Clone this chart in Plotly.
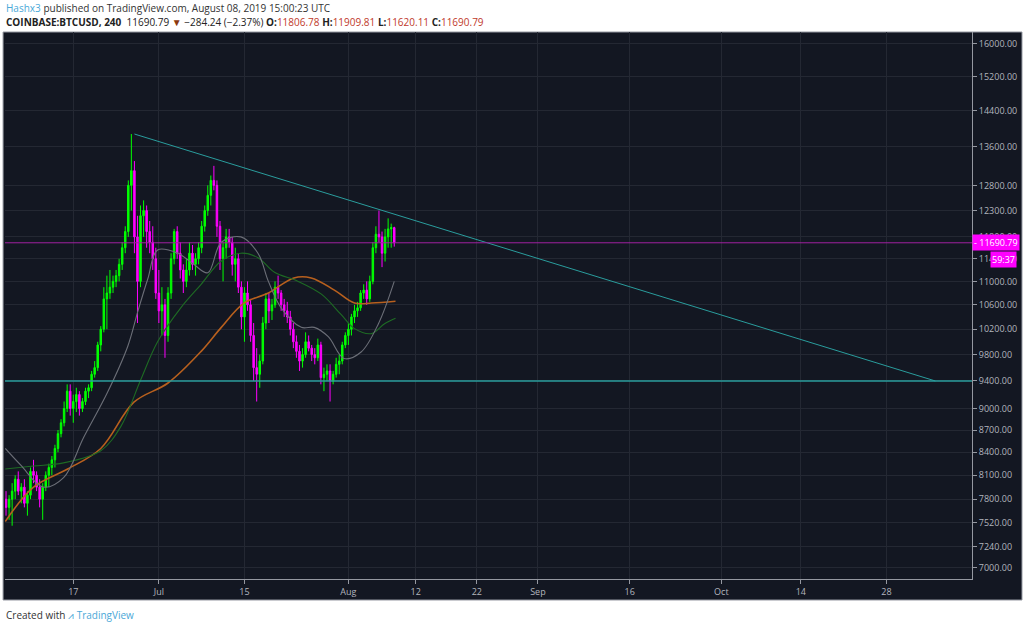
import plotly.graph_objects as go
import pandas as pd
import math

# 12h candles starting 2019-06-06 00:00
start = "2019-06-06 00:00"
opens = [7800,7700,7800,7900,8050,7900,7950,7750,7850,8150,8100,7950,7800,7950,8100,8200,8300,8450,8650,8800,
         9000,9250,9000,9100,9200,9000,9100,9250,9300,9500,9600,9950,10200,10700,10800,10900,11000,11100,11300,11600,
         11900,12800,13100,11800,11000,12200,12300,11900,11700,11400,10800,10500,10600,10100,10800,11400,11900,11500,11200,11000,
         11200,11500,11300,11400,11600,12000,12300,12600,12900,12800,12000,11400,11600,11800,11700,11300,11400,10900,10400,10800,
         10600,10100,9600,9500,9700,10300,10700,10500,10600,10900,10800,10600,10500,10400,10200,10000,9850,9700,9800,10000,
         9900,9800,9750,9950,9450,9500,9550,9400,9500,9650,9700,9950,10100,10200,10400,10500,10550,10800,10850,10700,
         11000,11600,11850,11800,11500,11800,11950,11975]
highs = [7900,7850,8000,8100,8150,8000,8050,7900,8200,8300,8150,8050,8000,8150,8250,8350,8500,8700,8850,9100,
         9350,9350,9200,9300,9250,9150,9300,9350,9550,9700,10000,10250,10900,11100,11200,11100,11200,11400,11700,12000,
         12900,13880,13300,12200,12400,12500,12400,12100,12000,11600,11200,10900,10700,10900,11500,11950,12000,11700,11300,11400,
         11700,11650,11500,11700,12100,12400,12800,13000,13200,12900,12100,11700,11950,11950,11800,11600,11500,11000,10900,11000,
         10700,10300,9900,9800,10400,10800,10800,10700,11000,11100,10850,10700,10650,10500,10300,10100,9950,9900,10150,10100,
         9950,9900,10050,10000,9600,9650,9650,9550,9750,9800,10000,10150,10300,10450,10600,10650,10850,10950,11000,11100,
         11700,12000,12300,11900,11950,12150,12050,11990]
lows = [7600,7550,7480,7800,7850,7750,7700,7600,7800,8000,7900,7700,7550,7900,7950,8100,8200,8400,8600,8750,
        8950,8900,8800,8950,8900,8950,9050,9150,9250,9450,9550,9850,10150,10200,10700,10800,10900,11000,11200,11500,
        11800,12300,11500,10300,10900,11800,11600,11500,11200,10700,10300,10100,9750,10000,10700,11300,11400,11050,10800,10900,
        11100,11200,11100,11300,11500,11900,12200,12400,12700,11800,11200,11000,11400,11600,11100,11000,10800,10200,10000,10500,
        10000,9400,9100,9300,9650,10200,10300,10350,10550,10700,10500,10400,10300,10100,9900,9750,9550,9600,9750,9850,
        9700,9650,9700,9350,9250,9400,9100,9350,9450,9500,9650,9900,9950,10100,10300,10400,10500,10700,10600,10650,
        10950,11500,11700,11250,11350,11600,11600,11620]
closes = [7700,7800,7900,8050,7900,7950,7750,7850,8150,8100,7950,7800,7950,8100,8200,8300,8450,8650,8800,9000,
          9250,9000,9100,9200,9000,9100,9250,9300,9500,9600,9950,10200,10700,10800,10900,11000,11100,11300,11600,11900,
          12800,13100,11800,11000,12200,12300,11900,11700,11400,10800,10500,10600,10100,10800,11400,11900,11500,11200,11000,11200,
          11500,11300,11400,11600,12000,12300,12600,12900,12800,12000,11400,11600,11800,11700,11300,11400,10900,10400,10800,10600,
          10100,9600,9500,9700,10300,10700,10500,10600,10900,10800,10600,10500,10400,10200,10000,9850,9700,9800,10000,9900,
          9800,9750,9950,9450,9500,9550,9400,9500,9650,9700,9950,10100,10200,10400,10500,10550,10800,10850,10700,11000,
          11600,11850,11800,11500,11800,11950,11975,11690.79]
dates = pd.date_range(start, periods=len(closes), freq="12h")

# moving averages
ma_gray_x = ["2019-06-05 21:00","2019-06-08 10:00","2019-06-12 02:00","2019-06-15 10:00","2019-06-18 17:00","2019-06-22 14:00",
             "2019-06-25 22:00","2019-06-27 14:00","2019-06-29 05:00","2019-06-30 19:00","2019-07-04 02:00","2019-07-06 17:00",
             "2019-07-09 00:00","2019-07-11 05:00","2019-07-14 10:00","2019-07-17 05:00","2019-07-18 22:00","2019-07-21 00:00",
             "2019-07-24 07:00","2019-07-26 10:00","2019-07-28 17:00","2019-07-31 07:00","2019-08-03 02:00","2019-08-05 22:00","2019-08-08 12:00"]
ma_gray_y = [8450,8230,7950,8070,8600,9230,9930,10500,11050,11560,11500,11300,11150,11700,11800,11500,11000,10550,
             10230,10230,10080,9740,9840,10290,11000]
ma_green_x = ["2019-06-05 21:00","2019-06-10 12:00","2019-06-15 10:00","2019-06-21 12:00","2019-06-24 19:00","2019-06-28 00:00",
              "2019-06-30 19:00","2019-07-04 14:00","2019-07-07 22:00","2019-07-11 05:00","2019-07-14 10:00","2019-07-17 05:00",
              "2019-07-19 22:00","2019-07-23 19:00","2019-07-27 14:00","2019-07-30 19:00","2019-08-02 00:00","2019-08-04 19:00",
              "2019-08-06 22:00","2019-08-08 17:00"]
ma_green_y = [8180,8220,8260,8420,8750,9410,10000,10550,10950,11360,11500,11420,11160,11000,10780,10440,10210,10130,10290,10380]
ma_orange_x = ["2019-06-05 21:00","2019-06-10 12:00","2019-06-16 02:00","2019-06-21 12:00","2019-06-26 22:00","2019-07-02 12:00",
               "2019-07-07 22:00","2019-07-11 05:00","2019-07-14 22:00","2019-07-18 22:00","2019-07-23 02:00","2019-07-25 22:00",
               "2019-07-29 17:00","2019-08-02 00:00","2019-08-04 19:00","2019-08-08 17:00"]
ma_orange_y = [7530,7950,8180,8450,9090,9370,9850,10230,10630,10800,11060,11060,10850,10630,10630,10660]

trend_x = ["2019-06-27 00:00","2019-11-05 00:00"]
trend_y = [13880,9400]
support = 9400
last_price = 11690.79

y_ticks = [7000,7240,7520,7800,8100,8400,8700,9000,9400,9800,10200,10600,11000,11400,11800,12300,12800,13600,14400,15200,16000]
x_tickvals = ["2019-06-17","2019-07-01","2019-07-15","2019-08-01","2019-08-12","2019-08-22","2019-09-01",
              "2019-09-16","2019-10-01","2019-10-14","2019-10-28"]
x_ticktext = ["17","Jul","15","Aug","12","22","Sep","16","Oct","14","28"]

BG = "#131722"
GRID = "#242833"

fig = go.Figure()
fig.add_trace(go.Scatter(x=ma_orange_x, y=ma_orange_y, mode="lines", line=dict(color="#b8601e", width=1.6, shape="spline"), hoverinfo="skip"))
fig.add_trace(go.Scatter(x=ma_green_x, y=ma_green_y, mode="lines", line=dict(color="#1e6b24", width=1.1, shape="spline"), hoverinfo="skip"))
fig.add_trace(go.Scatter(x=ma_gray_x, y=ma_gray_y, mode="lines", line=dict(color="#6c6f78", width=1.1, shape="spline"), hoverinfo="skip"))
fig.add_trace(go.Candlestick(x=dates, open=opens, high=highs, low=lows, close=closes,
                             increasing=dict(line=dict(color="#00ff00", width=1), fillcolor="#00ff00"),
                             decreasing=dict(line=dict(color="#ff00ff", width=1), fillcolor="#ff00ff"),
                             whiskerwidth=0))
fig.add_trace(go.Scatter(x=trend_x, y=trend_y, mode="lines", line=dict(color="#2a9d9d", width=1), hoverinfo="skip"))

fig.add_hline(y=support, line=dict(color="#2a9d9d", width=1.3))
fig.add_hline(y=last_price, line=dict(color="#a020a0", width=1))

# dark chart background
fig.add_shape(type="rect", xref="paper", yref="paper", x0=-0.002, x1=1.0517, y0=-0.0384, y1=1.0,
              fillcolor=BG, line=dict(color="#9598a1", width=1), layer="below")

fig.update_layout(
    width=1024, height=629, showlegend=False,
    paper_bgcolor="white", plot_bgcolor=BG,
    margin=dict(l=5, r=52, t=32, b=50),
    font=dict(family="Open Sans, sans-serif", size=9, color="#b2b5be"),
    xaxis=dict(type="date", range=["2019-06-05 20:00", "2019-11-11"], rangeslider=dict(visible=False),
               tickvals=x_tickvals, ticktext=x_ticktext, showgrid=True, gridcolor=GRID,
               ticks="outside", ticklen=4, tickcolor="#9598a1", showline=True, linecolor="#9598a1",
               tickfont=dict(size=9, color="#b2b5be")),
    yaxis=dict(type="log", side="right", range=[math.log10(6877), math.log10(16305)],
               tickvals=y_ticks, ticktext=[f"{v:.2f}" for v in y_ticks], showgrid=True, gridcolor=GRID,
               ticks="outside", ticklen=4, tickcolor="#9598a1", showline=True, linecolor="#9598a1",
               tickfont=dict(size=9, color="#b2b5be")),
)

fig.add_annotation(xref="paper", yref="y", x=1.0, y=math.log10(last_price), xanchor="left", yanchor="middle",
                   text="- 11690.79", showarrow=False, bgcolor="#ff00ff", font=dict(color="white", size=9), borderpad=1)
fig.add_annotation(xref="paper", yref="y", x=1.047, y=math.log10(11380), xanchor="right", yanchor="middle",
                   text="59:37", showarrow=False, bgcolor="#ff00ff", font=dict(color="white", size=9), borderpad=1)

fig.add_annotation(xref="paper", yref="paper", x=-0.001, y=1.044, xanchor="left", yanchor="middle", showarrow=False,
                   text="<span style='color:#4aa8d8'>Hashx3</span> published on TradingView.com, August 08, 2019 15:00:23 UTC",
                   font=dict(size=10, color="#333333"))
fig.add_annotation(xref="paper", yref="paper", x=-0.001, y=1.018, xanchor="left", yanchor="middle", showarrow=False,
                   text="<b>COINBASE:BTCUSD, 240</b>  11690.79 <span style='color:#8b3a0f'>▼</span> −284.24 (−2.37%) "
                        "<b>O:</b><span style='color:#c0392b'>11806.78</span> <b>H:</b><span style='color:#c0392b'>11909.81</span> "
                        "<b>L:</b><span style='color:#c0392b'>11620.11</span> <b>C:</b><span style='color:#c0392b'>11690.79</span>",
                   font=dict(size=10, color="#222222"))
fig.add_annotation(xref="paper", yref="paper", x=-0.001, y=-0.066, xanchor="left", yanchor="middle", showarrow=False,
                   text="Created with <span style='color:#4aa8d8'>⩘ TradingView</span>", font=dict(size=10, color="#333333"))

fig.write_html("out.html", config={"displayModeBar": False},
               post_script="document.body.style.margin='0';document.body.style.padding='0';")
